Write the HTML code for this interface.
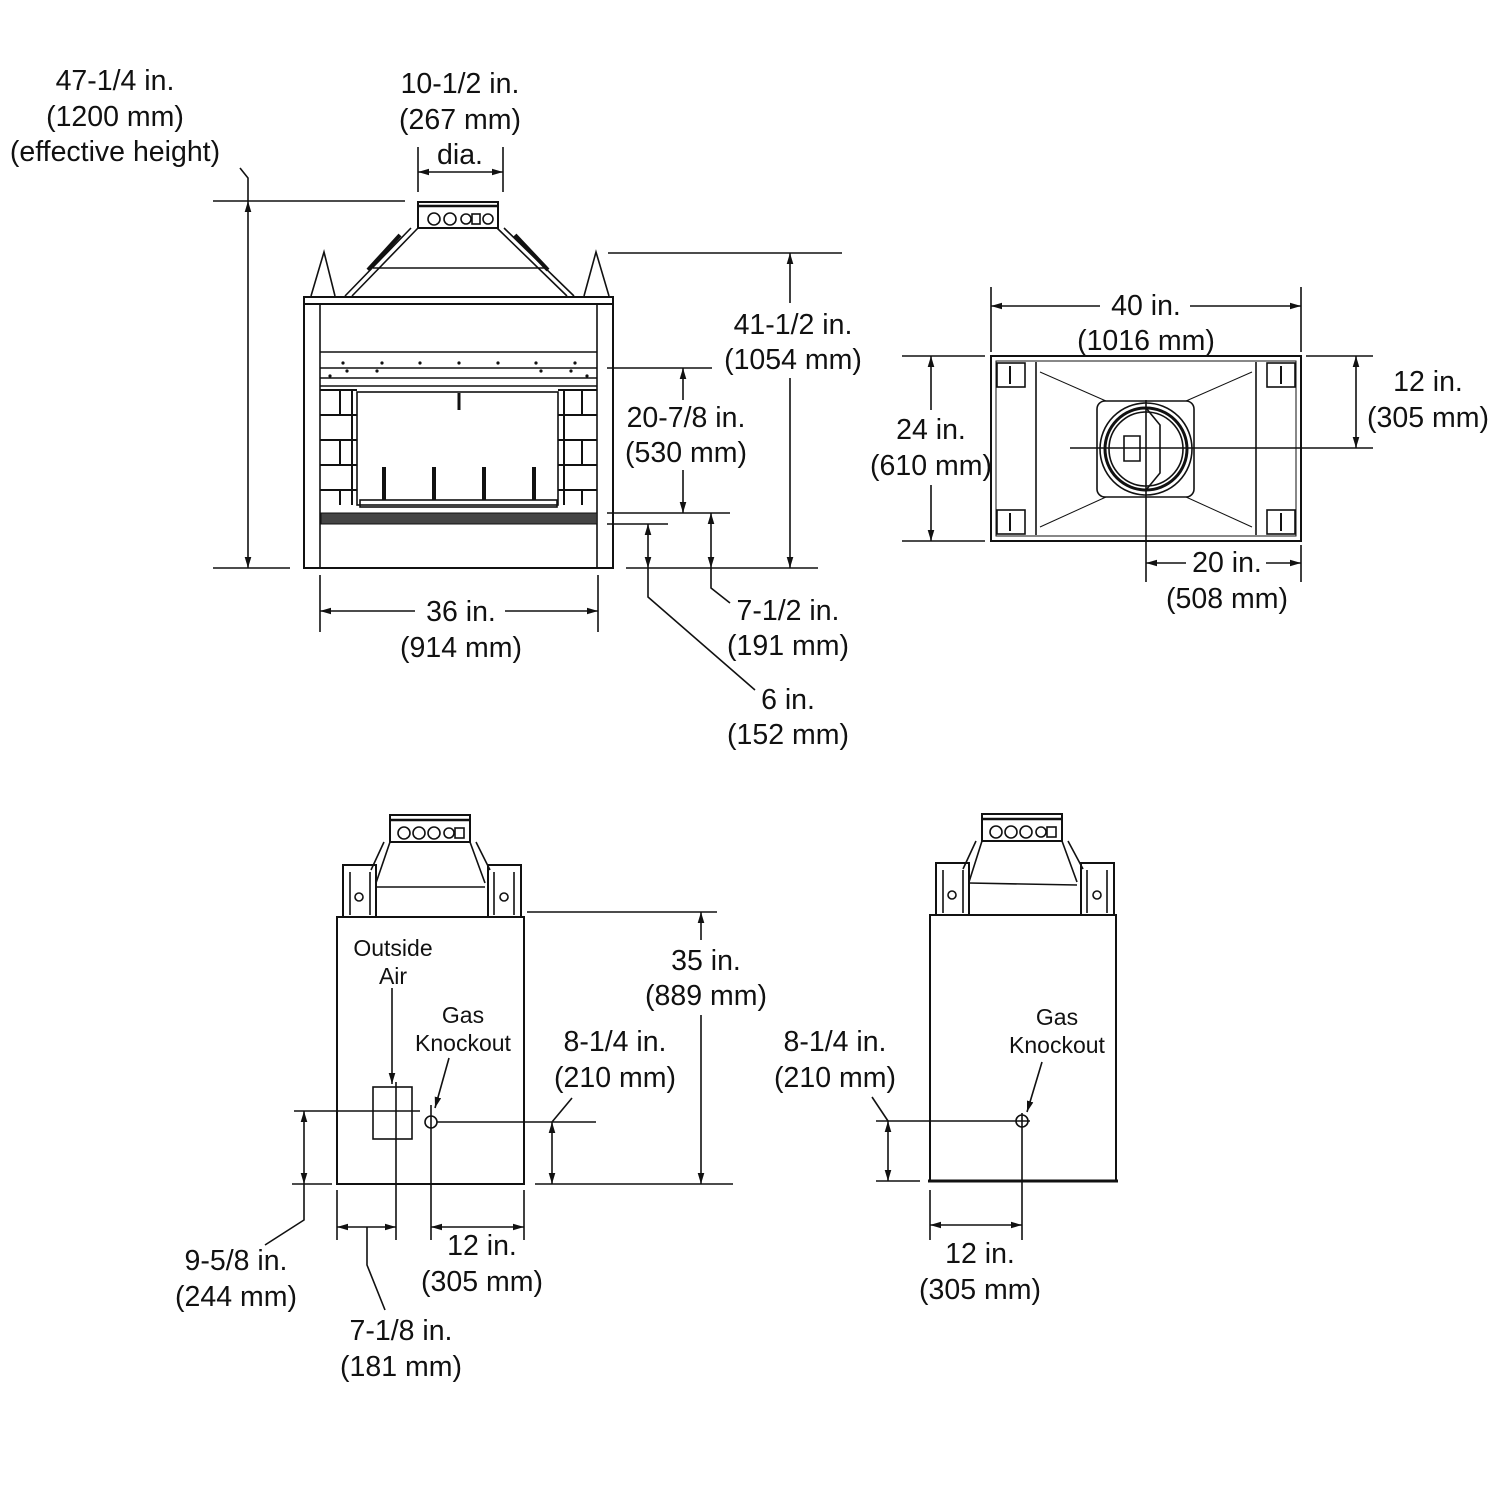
<!DOCTYPE html>
<html><head><meta charset="utf-8"><style>
html,body{margin:0;padding:0;background:#fff}
svg{display:block}
text{font-family:"Liberation Sans",Arial,sans-serif;fill:#111;text-anchor:middle}
.d{font-size:28.5px}
.s{font-size:23px}
</style></head><body>
<svg width="1500" height="1500" viewBox="0 0 1500 1500" xmlns="http://www.w3.org/2000/svg">
<defs>
<marker id="a" viewBox="0 0 10 10" refX="10" refY="5" markerWidth="11" markerHeight="11" markerUnits="userSpaceOnUse" orient="auto-start-reverse"><path d="M0,2 L10,5 L0,8 Z" fill="#111"/></marker>
</defs>
<g stroke="#111" fill="none" stroke-width="1.6">
<!-- ===== FRONT VIEW ===== -->
<rect x="304" y="297" width="309" height="7" stroke-width="2"/>
<rect x="304" y="304" width="309" height="264" stroke-width="2"/>
<line x1="320" y1="304" x2="320" y2="568"/><line x1="597" y1="304" x2="597" y2="568"/>
<path d="M311,296 L324,252 L335,296"/><path d="M584,296 L596,252 L609,296"/>
<rect x="418" y="202" width="80" height="26" stroke-width="2"/>
<line x1="418" y1="206" x2="498" y2="206" stroke-width="2.5"/>
<circle cx="434" cy="219" r="6"/><circle cx="450" cy="219" r="6"/><circle cx="466" cy="219" r="5"/><rect x="472" y="214" width="8" height="10"/><circle cx="488" cy="219" r="5"/>
<path d="M418,228 L352,296 M497,228 L567,296"/>
<path d="M411,228 L345,296 M504,228 L574,296"/>
<path d="M400,235 L368,270 M515,235 L548,270" stroke-width="4"/>
<line x1="373" y1="268" x2="545" y2="268"/>
<line x1="320" y1="352" x2="597" y2="352"/><line x1="320" y1="368" x2="597" y2="368"/><line x1="320" y1="378" x2="597" y2="378"/><line x1="320" y1="386" x2="597" y2="386"/>
<g fill="#111" stroke="none">
<circle cx="343" cy="363" r="1.6"/><circle cx="382" cy="363" r="1.6"/><circle cx="420" cy="363" r="1.6"/><circle cx="459" cy="363" r="1.6"/><circle cx="498" cy="363" r="1.6"/><circle cx="536" cy="363" r="1.6"/><circle cx="575" cy="363" r="1.6"/>
<circle cx="330" cy="376" r="1.6"/><circle cx="347" cy="371" r="1.6"/><circle cx="377" cy="371" r="1.6"/><circle cx="541" cy="371" r="1.6"/><circle cx="571" cy="371" r="1.6"/><circle cx="587" cy="376" r="1.6"/>
</g>
<rect x="357" y="392" width="201" height="113"/>
<line x1="459" y1="393" x2="459" y2="410" stroke-width="3"/>
<g stroke-width="4"><line x1="384" y1="467" x2="384" y2="500"/><line x1="434" y1="467" x2="434" y2="500"/><line x1="484" y1="467" x2="484" y2="500"/><line x1="534" y1="467" x2="534" y2="500"/></g>
<rect x="360" y="500" width="197" height="7"/>
<g stroke-width="2">
<path d="M320,390 H357 M320,415 H357 M320,440 H357 M320,465 H357 M320,490 H357 M340,390 V415 M340,440 V465 M340,490 V505 M352,390V505"/>
<path d="M558,390 H597 M558,415 H597 M558,440 H597 M558,465 H597 M558,490 H597 M582,390 V415 M582,440 V465 M582,490 V505 M564,390V505"/>
</g>
<rect x="321" y="513" width="276" height="11" fill="#444" stroke-width="1"/>
<line x1="213" y1="201" x2="405" y2="201"/><line x1="213" y1="568" x2="290" y2="568"/>
<line x1="248" y1="201" x2="248" y2="568" marker-start="url(#a)" marker-end="url(#a)"/>
<path d="M248,201 L248,178 L240,168"/>
<line x1="418" y1="147" x2="418" y2="192"/><line x1="503" y1="147" x2="503" y2="192"/>
<line x1="418" y1="172" x2="503" y2="172" marker-start="url(#a)" marker-end="url(#a)"/>
<line x1="608" y1="253" x2="842" y2="253"/>
<line x1="790" y1="253" x2="790" y2="303" marker-start="url(#a)"/><line x1="790" y1="378" x2="790" y2="568" marker-end="url(#a)"/>
<line x1="607" y1="368" x2="712" y2="368"/>
<line x1="683" y1="368" x2="683" y2="400" marker-start="url(#a)"/><line x1="683" y1="470" x2="683" y2="513" marker-end="url(#a)"/>
<line x1="607" y1="513" x2="730" y2="513"/><line x1="607" y1="524" x2="668" y2="524"/><line x1="626" y1="568" x2="818" y2="568"/>
<line x1="711" y1="513" x2="711" y2="568" marker-start="url(#a)" marker-end="url(#a)"/>
<line x1="648" y1="524" x2="648" y2="568" marker-start="url(#a)" marker-end="url(#a)"/>
<path d="M711,568 L711,588 L730,603"/><path d="M648,568 L648,597 L755,690"/>
<line x1="320" y1="575" x2="320" y2="632"/><line x1="598" y1="575" x2="598" y2="632"/>
<line x1="320" y1="611" x2="415" y2="611" marker-start="url(#a)"/><line x1="505" y1="611" x2="598" y2="611" marker-end="url(#a)"/>
<!-- ===== TOP VIEW ===== -->
<rect x="991" y="356" width="310" height="185" stroke-width="2"/>
<rect x="996" y="361" width="300" height="175" stroke-width="1"/>
<line x1="1036" y1="362" x2="1036" y2="535"/><line x1="1256" y1="362" x2="1256" y2="535"/>
<rect x="997" y="363" width="28" height="24"/><rect x="1267" y="363" width="28" height="24"/>
<rect x="997" y="510" width="28" height="24"/><rect x="1267" y="510" width="28" height="24"/>
<path d="M1010,366V384 M1281,366V384 M1010,513V531 M1281,513V531" stroke-width="2"/>
<path d="M1040,372 L1106,401 M1252,372 L1186,401 M1040,527 L1106,497 M1252,527 L1186,497" stroke-width="1"/>
<rect x="1097" y="401" width="97" height="96" rx="8"/>
<circle cx="1146" cy="449" r="46"/><circle cx="1146" cy="449" r="41" stroke-width="3"/><circle cx="1146" cy="449" r="37"/>
<path d="M1146,408 L1160,425 L1160,473 L1146,490 M1124,436 H1140 V461 H1124 Z"/>
<line x1="1070" y1="448" x2="1373" y2="448"/><line x1="1146" y1="400" x2="1146" y2="582"/>
<line x1="991" y1="287" x2="991" y2="352"/><line x1="1301" y1="287" x2="1301" y2="352"/><line x1="1301" y1="545" x2="1301" y2="582"/>
<line x1="991" y1="306" x2="1100" y2="306" marker-start="url(#a)"/><line x1="1190" y1="306" x2="1301" y2="306" marker-end="url(#a)"/>
<line x1="1306" y1="356" x2="1373" y2="356"/>
<line x1="1356" y1="356" x2="1356" y2="448" marker-start="url(#a)" marker-end="url(#a)"/>
<line x1="902" y1="356" x2="985" y2="356"/><line x1="902" y1="541" x2="985" y2="541"/>
<line x1="931" y1="356" x2="931" y2="410" marker-start="url(#a)"/><line x1="931" y1="485" x2="931" y2="541" marker-end="url(#a)"/>
<line x1="1146" y1="563" x2="1186" y2="563" marker-start="url(#a)"/><line x1="1266" y1="563" x2="1301" y2="563" marker-end="url(#a)"/>
<!-- ===== SIDE VIEW LEFT ===== -->
<rect x="337" y="917" width="187" height="267" stroke-width="2"/>
<rect x="343" y="865" width="33" height="52" stroke-width="2"/><rect x="488" y="865" width="33" height="52" stroke-width="2"/>
<path d="M350,872V915 M370,872V915 M494,872V915 M514,872V915"/>
<circle cx="359" cy="897" r="4"/><circle cx="504" cy="897" r="4"/>
<rect x="390" y="815" width="80" height="27" stroke-width="2"/><line x1="390" y1="820" x2="470" y2="820" stroke-width="2.5"/>
<circle cx="404" cy="833" r="6"/><circle cx="419" cy="833" r="6"/><circle cx="434" cy="833" r="6"/><circle cx="449" cy="833" r="5"/><rect x="455" y="828" width="9" height="10"/>
<path d="M390,842 L376,883 M470,842 L485,883 M384,842 L371,870 M476,842 L490,870"/>
<line x1="376" y1="887" x2="485" y2="887"/>
<rect x="373" y="1087" width="39" height="52"/>
<circle cx="431" cy="1122" r="6"/>
<line x1="294" y1="1111" x2="420" y2="1111"/><line x1="437" y1="1122" x2="596" y2="1122"/>
<line x1="396" y1="1082" x2="396" y2="1240"/><line x1="431" y1="1105" x2="431" y2="1240"/>
<line x1="392" y1="988" x2="392" y2="1084" marker-end="url(#a)"/>
<line x1="449" y1="1058" x2="435" y2="1108" marker-end="url(#a)"/>
<line x1="527" y1="912" x2="717" y2="912"/><line x1="535" y1="1184" x2="733" y2="1184"/>
<line x1="701" y1="912" x2="701" y2="940" marker-start="url(#a)"/><line x1="701" y1="1015" x2="701" y2="1184" marker-end="url(#a)"/>
<line x1="552" y1="1122" x2="552" y2="1184" marker-start="url(#a)" marker-end="url(#a)"/>
<path d="M552,1122 L572,1098"/>
<line x1="292" y1="1184" x2="332" y2="1184"/>
<line x1="304" y1="1111" x2="304" y2="1184" marker-start="url(#a)" marker-end="url(#a)"/>
<path d="M304,1184 L304,1220 L265,1245"/>
<line x1="337" y1="1190" x2="337" y2="1240"/><line x1="524" y1="1190" x2="524" y2="1240"/>
<line x1="337" y1="1227" x2="396" y2="1227" marker-start="url(#a)" marker-end="url(#a)"/>
<line x1="431" y1="1227" x2="524" y2="1227" marker-start="url(#a)" marker-end="url(#a)"/>
<path d="M367,1227 L367,1265 L385,1310"/>
<!-- ===== SIDE VIEW RIGHT ===== -->
<rect x="930" y="915" width="186" height="266" stroke-width="2"/>
<line x1="928" y1="1181" x2="1118" y2="1181" stroke-width="3"/>
<rect x="936" y="863" width="33" height="52" stroke-width="2"/><rect x="1081" y="863" width="33" height="52" stroke-width="2"/>
<path d="M943,870V913 M963,870V913 M1087,870V913 M1107,870V913"/>
<circle cx="952" cy="895" r="4"/><circle cx="1097" cy="895" r="4"/>
<rect x="982" y="814" width="80" height="27" stroke-width="2"/><line x1="982" y1="819" x2="1062" y2="819" stroke-width="2.5"/>
<circle cx="996" cy="832" r="6"/><circle cx="1011" cy="832" r="6"/><circle cx="1026" cy="832" r="6"/><circle cx="1041" cy="832" r="5"/><rect x="1047" y="827" width="9" height="10"/>
<path d="M982,841 L969,882 M1062,841 L1077,882 M976,841 L963,869 M1068,841 L1083,869"/>
<line x1="969" y1="883" x2="1077" y2="885"/>
<circle cx="1022" cy="1121" r="6"/>
<line x1="876" y1="1121" x2="1030" y2="1121"/><line x1="1022" y1="1113" x2="1022" y2="1240"/>
<line x1="1042" y1="1062" x2="1027" y2="1112" marker-end="url(#a)"/>
<line x1="876" y1="1181" x2="920" y2="1181"/>
<line x1="888" y1="1121" x2="888" y2="1181" marker-start="url(#a)" marker-end="url(#a)"/>
<path d="M888,1121 L872,1097"/>
<line x1="930" y1="1190" x2="930" y2="1240"/>
<line x1="930" y1="1225" x2="1022" y2="1225" marker-start="url(#a)" marker-end="url(#a)"/>
</g>
<g class="d">
<text x="115" y="90">47-1/4 in.</text><text x="115" y="126">(1200 mm)</text><text x="115" y="161">(effective height)</text>
<text x="460" y="93">10-1/2 in.</text><text x="460" y="129">(267 mm)</text><text x="460" y="164">dia.</text>
<text x="793" y="334">41-1/2 in.</text><text x="793" y="369">(1054 mm)</text>
<text x="686" y="427">20-7/8 in.</text><text x="686" y="462">(530 mm)</text>
<text x="461" y="621">36 in.</text><text x="461" y="657">(914 mm)</text>
<text x="788" y="620">7-1/2 in.</text><text x="788" y="655">(191 mm)</text>
<text x="788" y="709">6 in.</text><text x="788" y="744">(152 mm)</text>
<text x="1146" y="315">40 in.</text><text x="1146" y="350">(1016 mm)</text>
<text x="1428" y="391">12 in.</text><text x="1428" y="427">(305 mm)</text>
<text x="931" y="439">24 in.</text><text x="931" y="475">(610 mm)</text>
<text x="1227" y="572">20 in.</text><text x="1227" y="608">(508 mm)</text>
<text x="706" y="970">35 in.</text><text x="706" y="1005">(889 mm)</text>
<text x="615" y="1051">8-1/4 in.</text><text x="615" y="1087">(210 mm)</text>
<text x="236" y="1270">9-5/8 in.</text><text x="236" y="1306">(244 mm)</text>
<text x="401" y="1340">7-1/8 in.</text><text x="401" y="1376">(181 mm)</text>
<text x="482" y="1255">12 in.</text><text x="482" y="1291">(305 mm)</text>
<text x="835" y="1051">8-1/4 in.</text><text x="835" y="1087">(210 mm)</text>
<text x="980" y="1263">12 in.</text><text x="980" y="1299">(305 mm)</text>
</g>
<g class="s">
<text x="393" y="956">Outside</text><text x="393" y="984">Air</text>
<text x="463" y="1023">Gas</text><text x="463" y="1051">Knockout</text>
<text x="1057" y="1025">Gas</text><text x="1057" y="1053">Knockout</text>
</g>
</svg>
</body></html>
